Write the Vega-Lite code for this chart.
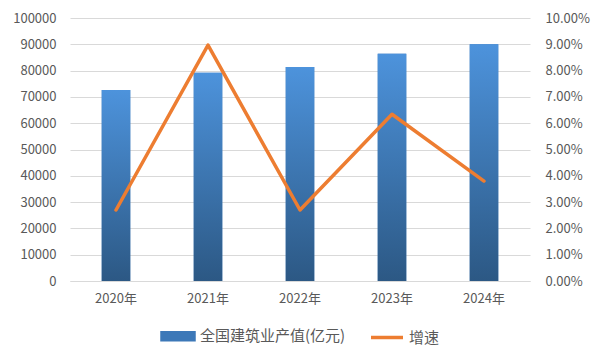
{
  "$schema": "https://vega.github.io/schema/vega-lite/v6.json",
  "width": 460,
  "height": 263,
  "autosize": {"type": "none"},
  "padding": {"left": 70, "top": 18, "right": 71, "bottom": 80},
  "background": "white",
  "config": {
    "font": "Noto Sans CJK SC",
    "view": {"stroke": null},
    "legend": {"layout": {"bottom": {"anchor": "middle"}}},
    "axis": {
      "labelColor": "#595959",
      "labelFontSize": 13,
      "labelFont": "Noto Sans CJK SC",
      "labelOverlap": false,
      "ticks": false,
      "domain": false,
      "title": null,
      "gridColor": "#d9d9d9",
      "gridWidth": 1
    }
  },
  "data": {
    "values": [
      {"year": "2020年", "value": 72600, "growth": 0.027},
      {"year": "2021年", "value": 79200, "growth": 0.0897},
      {"year": "2022年", "value": 81400, "growth": 0.027},
      {"year": "2023年", "value": 86400, "growth": 0.0634},
      {"year": "2024年", "value": 90000, "growth": 0.038}
    ]
  },
  "encoding": {
    "x": {
      "field": "year",
      "type": "nominal",
      "sort": null,
      "scale": {"paddingInner": 0.69, "paddingOuter": 0.345},
      "axis": {"labelAngle": 0, "labelPadding": 11, "domain": true, "domainColor": "#d9d9d9", "grid": false}
    }
  },
  "layer": [
    {
      "encoding": {
        "y": {
          "field": "value",
          "type": "quantitative",
          "scale": {"domain": [0, 100000]},
          "axis": {"values": [0,10000,20000,30000,40000,50000,60000,70000,80000,90000,100000], "format": "d", "labelPadding": 14, "grid": true, "labelOverlap": false, "labelFlush": false}
        }
      },
      "layer": [
        {
          "mark": {"type": "bar"},
          "encoding": {
            "color": {
              "datum": "全国建筑业产值(亿元)",
              "type": "nominal",
              "scale": {"domain": ["全国建筑业产值(亿元)", "增速"], "range": ["#3c78b8", "#ED7D31"]},
              "legend": {
                "orient": "bottom",
                "direction": "horizontal",
                "title": null,
                "offset": 13,
                "labelFontSize": 15,
                "labelColor": "#595959",
                "labelFont": "Noto Sans CJK SC",
                "columnPadding": 18,
                "labelOffset": 4,
                "symbolSize": 1024,
                "encode": {
                  "symbols": {
                    "update": {
                      "shape": {"signal": "datum.value === '增速' ? 'stroke' : 'M-1,-0.22H1V0.22H-1Z'"},
                      "fill": {"signal": "datum.value === '增速' ? 'transparent' : {gradient: 'linear', x1: 0, y1: 0, x2: 0, y2: 1, stops: [{offset: 0, color: '#5a9be0'}, {offset: 1, color: '#2d5a87'}]}"},
                      "stroke": {"signal": "datum.value === '增速' ? '#ED7D31' : 'transparent'"},
                      "strokeWidth": {"value": 3.5},
                      "opacity": {"value": 1}
                    }
                  }
                }
              }
            }
          }
        },
        {
          "mark": {
            "type": "bar",
            "fill": {
              "gradient": "linear",
              "x1": 0, "y1": 0, "x2": 0, "y2": 1,
              "stops": [
                {"offset": 0, "color": "#4d93dc"},
                {"offset": 1, "color": "#2c5884"}
              ]
            }
          },
          "encoding": {}
        }
      ]
    },
    {
      "mark": {"type": "line", "strokeWidth": 3.5, "strokeCap": "round", "strokeJoin": "round"},
      "encoding": {
        "y": {
          "field": "growth",
          "type": "quantitative",
          "scale": {"domain": [0, 0.1]},
          "axis": {"orient": "right", "format": ".2%", "values": [0,0.01,0.02,0.03,0.04,0.05,0.06,0.07,0.08,0.09,0.1], "labelPadding": 15, "grid": false, "labelOverlap": false}
        },
        "color": {"datum": "增速", "type": "nominal"}
      }
    }
  ],
  "resolve": {"scale": {"y": "independent"}}
}
